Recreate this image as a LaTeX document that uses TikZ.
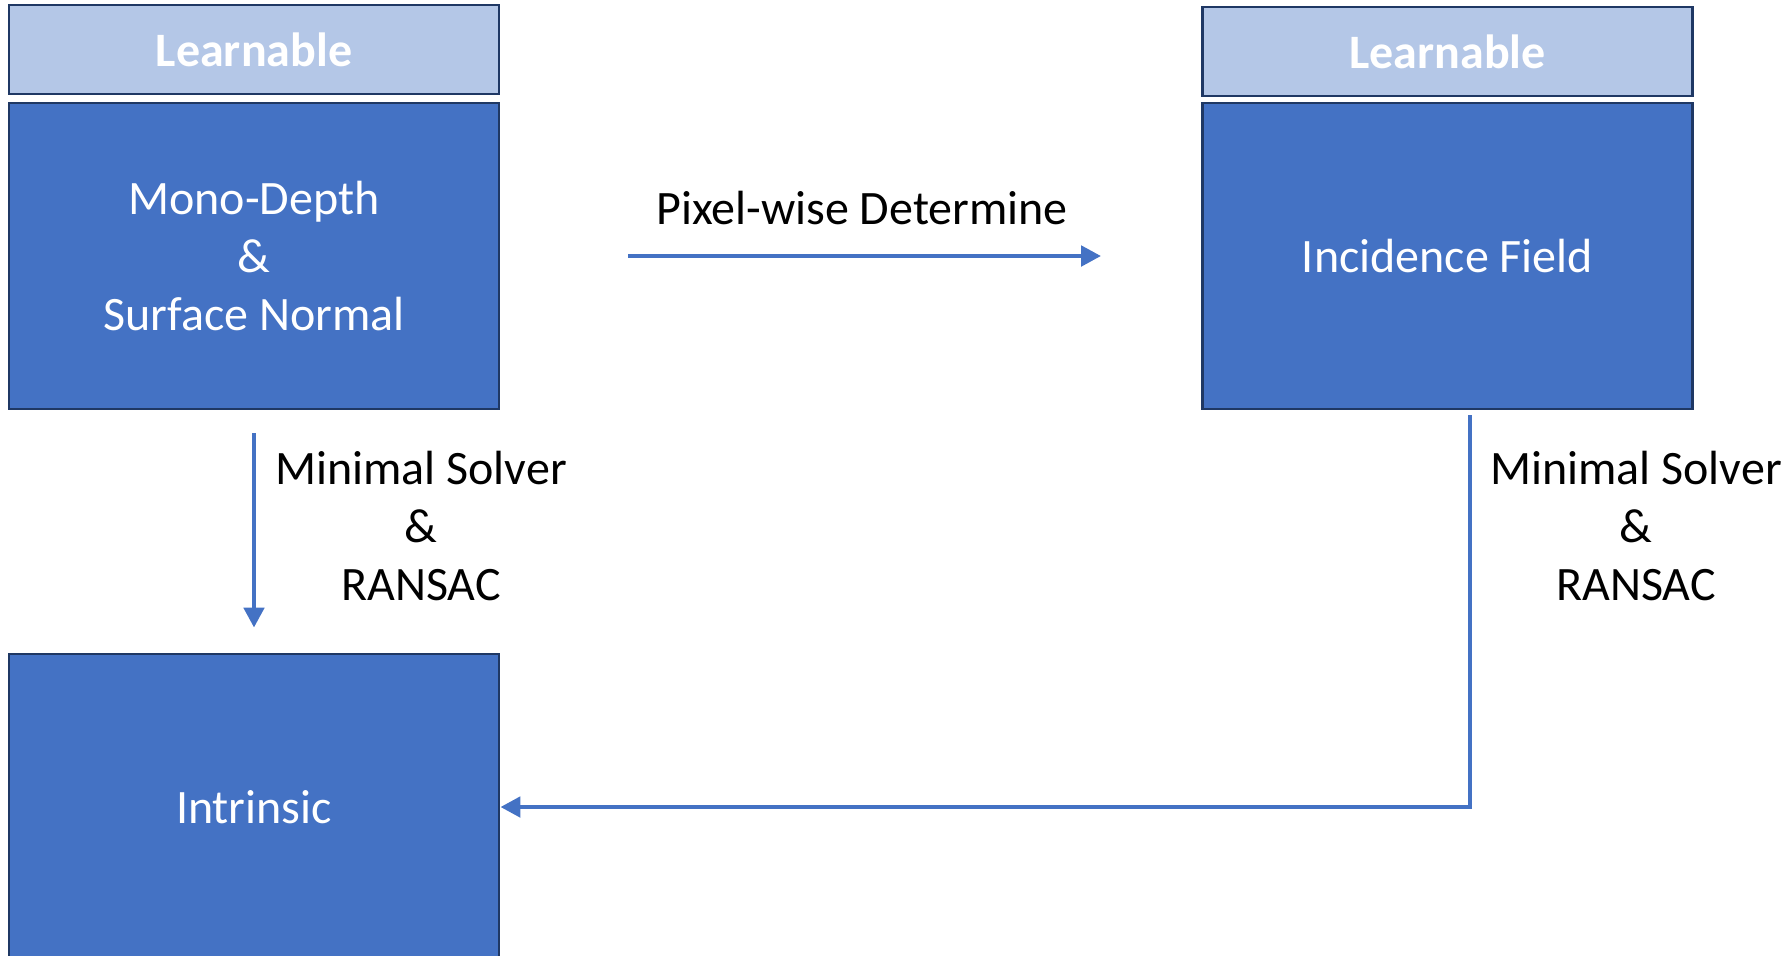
\documentclass[tikz,border=0pt]{standalone}
\usepackage{fontspec}
\setmainfont{Carlito}
\usetikzlibrary{arrows.meta}
\definecolor{mainblue}{HTML}{4472C4}
\definecolor{lightblue}{HTML}{B4C7E7}
\definecolor{navy}{HTML}{1F3864}
\begin{document}
\begin{tikzpicture}[x=0.5pt,y=-0.5pt,
  mainbox/.style={draw=navy,line width=1.4pt,fill=mainblue,text=white,
    minimum width=245pt,minimum height=153pt,inner sep=0pt,align=center,
    font=\fontsize{24}{28.8}\selectfont},
  learnbox/.style={draw=navy,line width=1.4pt,fill=lightblue,text=white,
    minimum width=245pt,minimum height=44.5pt,inner sep=0pt,
    font=\fontsize{24}{28.8}\selectfont\bfseries},
  lbl/.style={align=center,text=black,inner sep=0pt,font=\fontsize{24}{28.8}\selectfont},
  conn/.style={draw=mainblue,line width=2.4pt,-{Triangle[length=10pt,width=10pt]}}
]
\useasboundingbox (0,0) rectangle (1790,955);
\node[learnbox] (learnL) at (254,49.5) {Learnable};
\node[mainbox] (mono) at (254,256) {Mono-Depth\\\&\\Surface Normal};
\node[learnbox] (learnR) at (1447.5,51.5) {Learnable};
\node[mainbox] (inc) at (1447.5,256) {Incidence Field};
\node[mainbox] (intr) at (254,807) {Intrinsic};
\node[lbl] (pixlbl) at (862,208) {Pixel-wise Determine};
\node[lbl] (solvL) at (421,526) {Minimal Solver\\\&\\RANSAC};
\node[lbl] (solvR) at (1636,526) {Minimal Solver\\\&\\RANSAC};
\coordinate (elbow) at (1470,807);
\draw[conn,shorten <=64pt,shorten >=50pt] (mono.east |- 0,256) -- (inc.west |- 0,256);
\draw[conn,shorten <=11.5pt,shorten >=12.5pt] (mono.south) -- (intr.north);
\draw[conn,line join=miter,shorten <=2.5pt] (inc.south -| elbow) -- (elbow) -- (intr.east);
\end{tikzpicture}
\end{document}
